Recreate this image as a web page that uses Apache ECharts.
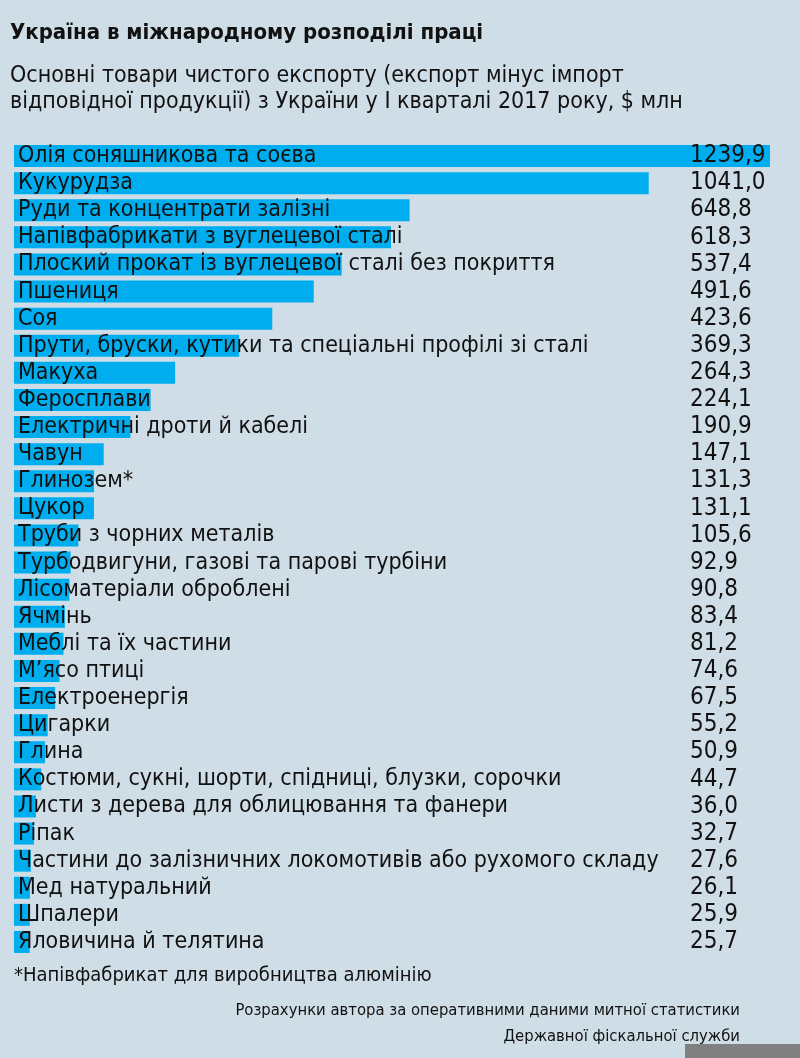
<!DOCTYPE html>
<html><head><meta charset="utf-8">
<script src="https://cdn.jsdelivr.net/npm/echarts@6/dist/echarts.min.js"></script>
<style>html,body{margin:0;padding:0;background:#cfdde7;}#c{width:800px;height:1058px;}</style>
</head><body><div id="c"></div>
<script>
const categories = ["Олія соняшникова та соєва","Кукурудза","Руди та концентрати залізні","Напівфабрикати з вуглецевої сталі","Плоский прокат із вуглецевої сталі без покриття","Пшениця","Соя","Прути, бруски, кутики та спеціальні профілі зі сталі","Макуха","Феросплави","Електричні дроти й кабелі","Чавун","Глинозем*","Цукор","Труби з чорних металів","Турбодвигуни, газові та парові турбіни","Лісоматеріали оброблені","Ячмінь","Меблі та їх частини","М’ясо птиці","Електроенергія","Цигарки","Глина","Костюми, сукні, шорти, спідниці, блузки, сорочки","Листи з дерева для облицювання та фанери","Ріпак","Частини до залізничних локомотивів або рухомого складу","Мед натуральний","Шпалери","Яловичина й телятина"];
const values = [1239.9,1041.0,648.8,618.3,537.4,491.6,423.6,369.3,264.3,224.1,190.9,147.1,131.3,131.1,105.6,92.9,90.8,83.4,81.2,74.6,67.5,55.2,50.9,44.7,36.0,32.7,27.6,26.1,25.9,25.7];
const valueLabels = values.map(v => v.toFixed(1).replace('.', ','));
const title = "Україна в міжнародному розподілі праці";
const subtitle1 = "Основні товари чистого експорту (експорт мінус імпорт";
const subtitle2 = "відповідної продукції) з України у І кварталі 2017 року, $ млн";
const footnote = "*Напівфабрикат для виробництва алюмінію";
const source1 = "Розрахунки автора за оперативними даними митної статистики";
const source2 = "Державної фіскальної служби";

const FONT = "'DejaVu Sans Condensed', 'Liberation Sans Narrow', sans-serif";
const chart = echarts.init(document.getElementById('c'));
chart.setOption({
  backgroundColor: '#cfdde7',
  animation: false,
  grid: {left: 14, right: 30, top: 142.5, height: 813},
  xAxis: {type: 'value', min: 0, max: 1239.9, show: false},
  yAxis: [
    {type: 'category', data: categories, inverse: true, z: 10,
     axisLine: {show: false}, axisTick: {show: false},
     axisLabel: {inside: true, interval: 0, margin: 4, align: 'left', color: '#111', fontSize: 23, fontFamily: FONT}},
    {type: 'category', data: valueLabels, inverse: true, position: 'right', z: 10,
     axisLine: {show: false}, axisTick: {show: false},
     axisLabel: {inside: true, interval: 0, margin: 80, align: 'left', color: '#111', fontSize: 24, fontFamily: FONT}}
  ],
  series: [{type: 'bar', data: values, barWidth: 22, itemStyle: {color: '#00adef'}, silent: true}],
  graphic: [
    {type: 'text', left: 10, top: 22, style: {text: title, fontSize: 22, fontWeight: 'bold', fill: '#111', fontFamily: FONT}},
    {type: 'text', left: 10, top: 65, style: {text: subtitle1, fontSize: 23, fill: '#111', fontFamily: FONT}},
    {type: 'text', left: 10, top: 91, style: {text: subtitle2, fontSize: 23, fill: '#111', fontFamily: FONT}},
    {type: 'text', left: 14, top: 966, style: {text: footnote, fontSize: 20, fill: '#111', fontFamily: FONT}},
    {type: 'text', right: 60, top: 1002, style: {text: source1, fontSize: 16.5, fill: '#111', fontFamily: FONT, align: 'right'}},
    {type: 'text', right: 60, top: 1028, style: {text: source2, fontSize: 16.5, fill: '#111', fontFamily: FONT, align: 'right'}},
    {type: 'rect', shape: {x: 685, y: 1044, width: 115, height: 14}, style: {fill: '#808080'}}
  ]
});
</script></body></html>
